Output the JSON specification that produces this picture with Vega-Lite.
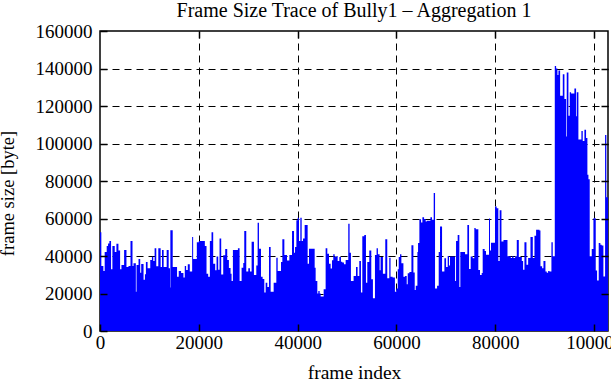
{
  "$schema": "https://vega.github.io/schema/vega-lite/v6.json",
  "width": 508,
  "height": 300,
  "autosize": {"type": "none"},
  "padding": {"left": 100, "top": 31, "right": 3, "bottom": 49},
  "background": "white",
  "title": {"text": "Frame Size Trace of Bully1 – Aggregation 1", "font": "Liberation Serif", "fontSize": 20, "fontWeight": "normal", "color": "black", "offset": 1, "anchor": "middle"},
  "config": {"view": {"stroke": "black", "strokeWidth": 1.5}},
  "data": {"values": [
    {"frame": 0, "size": 52700}, {"frame": 271, "size": 34700}, {"frame": 678, "size": 32000}, {"frame": 949, "size": 42100},
    {"frame": 1356, "size": 45300}, {"frame": 1627, "size": 46700}, {"frame": 1898, "size": 48000}, {"frame": 2237, "size": 33000},
    {"frame": 2509, "size": 45300}, {"frame": 2983, "size": 42100}, {"frame": 3322, "size": 46500}, {"frame": 3729, "size": 43000},
    {"frame": 4068, "size": 33000}, {"frame": 4339, "size": 35200}, {"frame": 4882, "size": 43200}, {"frame": 5356, "size": 34200},
    {"frame": 5763, "size": 34700}, {"frame": 6170, "size": 48000}, {"frame": 6577, "size": 34700}, {"frame": 6780, "size": 36100},
    {"frame": 7255, "size": 21000}, {"frame": 7390, "size": 35200}, {"frame": 7797, "size": 38400}, {"frame": 8136, "size": 31100},
    {"frame": 8339, "size": 35700}, {"frame": 8814, "size": 27400}, {"frame": 9085, "size": 30300}, {"frame": 9289, "size": 36800},
    {"frame": 9628, "size": 33500}, {"frame": 10170, "size": 37900}, {"frame": 10509, "size": 39600}, {"frame": 10780, "size": 37300},
    {"frame": 11051, "size": 44200}, {"frame": 11390, "size": 34500}, {"frame": 11797, "size": 44200}, {"frame": 12272, "size": 34200},
    {"frame": 12543, "size": 43200}, {"frame": 12882, "size": 34200}, {"frame": 13492, "size": 43200}, {"frame": 13899, "size": 33500},
    {"frame": 14170, "size": 23200}, {"frame": 14238, "size": 53800}, {"frame": 14713, "size": 34200}, {"frame": 15594, "size": 29000},
    {"frame": 15933, "size": 32000}, {"frame": 16408, "size": 31000}, {"frame": 16882, "size": 28500}, {"frame": 17153, "size": 34700},
    {"frame": 17424, "size": 32600}, {"frame": 17764, "size": 35600}, {"frame": 18170, "size": 31700}, {"frame": 18645, "size": 50100},
    {"frame": 18848, "size": 38400}, {"frame": 19594, "size": 47400}, {"frame": 20000, "size": 48000}, {"frame": 21217, "size": 45300},
    {"frame": 21555, "size": 30600}, {"frame": 21893, "size": 29000}, {"frame": 22231, "size": 48000}, {"frame": 22569, "size": 52700},
    {"frame": 22907, "size": 35900}, {"frame": 23312, "size": 32400}, {"frame": 23583, "size": 39800}, {"frame": 23921, "size": 32700},
    {"frame": 24191, "size": 49400}, {"frame": 24529, "size": 30100}, {"frame": 24935, "size": 40400}, {"frame": 25340, "size": 43700},
    {"frame": 25746, "size": 37900}, {"frame": 26084, "size": 33600}, {"frame": 26422, "size": 30600}, {"frame": 26625, "size": 26700},
    {"frame": 26895, "size": 43200}, {"frame": 27909, "size": 44200}, {"frame": 28247, "size": 26700}, {"frame": 28653, "size": 33800},
    {"frame": 28991, "size": 36300}, {"frame": 29194, "size": 53300}, {"frame": 29599, "size": 31700}, {"frame": 30005, "size": 33500},
    {"frame": 30343, "size": 31700}, {"frame": 30681, "size": 47600}, {"frame": 31154, "size": 29900}, {"frame": 31627, "size": 34900},
    {"frame": 31898, "size": 57700}, {"frame": 32168, "size": 43900}, {"frame": 32574, "size": 29000}, {"frame": 32912, "size": 27800},
    {"frame": 33250, "size": 20500}, {"frame": 33520, "size": 25800}, {"frame": 33858, "size": 23500}, {"frame": 34196, "size": 44800},
    {"frame": 34534, "size": 21000}, {"frame": 35142, "size": 25800}, {"frame": 35683, "size": 39100}, {"frame": 35954, "size": 32000},
    {"frame": 36630, "size": 36800}, {"frame": 36900, "size": 49000}, {"frame": 37306, "size": 40600}, {"frame": 37846, "size": 37600},
    {"frame": 38320, "size": 40600}, {"frame": 38860, "size": 53300}, {"frame": 39266, "size": 41800}, {"frame": 39469, "size": 44800},
    {"frame": 39739, "size": 59100}, {"frame": 40000, "size": 60400}, {"frame": 40270, "size": 48000}, {"frame": 40540, "size": 60400},
    {"frame": 40810, "size": 48000}, {"frame": 41080, "size": 49400}, {"frame": 41415, "size": 56500}, {"frame": 42020, "size": 35900},
    {"frame": 42290, "size": 43900}, {"frame": 43440, "size": 33800}, {"frame": 43640, "size": 26700}, {"frame": 43980, "size": 20000},
    {"frame": 44180, "size": 21400}, {"frame": 44450, "size": 20000}, {"frame": 44650, "size": 18400}, {"frame": 45260, "size": 22300},
    {"frame": 45660, "size": 44200}, {"frame": 46000, "size": 41200}, {"frame": 46340, "size": 35900}, {"frame": 46670, "size": 33300},
    {"frame": 46940, "size": 37700}, {"frame": 47210, "size": 40900}, {"frame": 47480, "size": 39500}, {"frame": 47820, "size": 40000},
    {"frame": 48090, "size": 37300}, {"frame": 48430, "size": 39500}, {"frame": 48760, "size": 37000}, {"frame": 49030, "size": 36600},
    {"frame": 49370, "size": 35600}, {"frame": 49710, "size": 37900}, {"frame": 50240, "size": 57200}, {"frame": 50510, "size": 41800},
    {"frame": 50780, "size": 26700}, {"frame": 51320, "size": 29400}, {"frame": 51800, "size": 34200}, {"frame": 52130, "size": 29400},
    {"frame": 52470, "size": 37300}, {"frame": 52810, "size": 20500}, {"frame": 53080, "size": 50600}, {"frame": 53480, "size": 51200},
    {"frame": 53820, "size": 25800}, {"frame": 54090, "size": 36800}, {"frame": 54490, "size": 43000}, {"frame": 54900, "size": 27600},
    {"frame": 55230, "size": 17500}, {"frame": 55640, "size": 40500}, {"frame": 55970, "size": 44200}, {"frame": 56240, "size": 40900},
    {"frame": 56580, "size": 32400}, {"frame": 56780, "size": 39500}, {"frame": 57250, "size": 30600}, {"frame": 57730, "size": 49000},
    {"frame": 58130, "size": 28100}, {"frame": 58540, "size": 39100}, {"frame": 58800, "size": 28900}, {"frame": 59210, "size": 28500},
    {"frame": 59680, "size": 21000}, {"frame": 59950, "size": 22700}, {"frame": 60250, "size": 32900}, {"frame": 60450, "size": 39500},
    {"frame": 60720, "size": 40900}, {"frame": 60990, "size": 36100}, {"frame": 61400, "size": 28900}, {"frame": 61730, "size": 29400},
    {"frame": 62070, "size": 25000}, {"frame": 62270, "size": 30800}, {"frame": 62610, "size": 31500}, {"frame": 63020, "size": 45800},
    {"frame": 63420, "size": 31200}, {"frame": 63690, "size": 21900}, {"frame": 63890, "size": 24100}, {"frame": 64230, "size": 42100},
    {"frame": 64360, "size": 46900}, {"frame": 64630, "size": 59600}, {"frame": 64970, "size": 57900}, {"frame": 65240, "size": 60700},
    {"frame": 65580, "size": 59800}, {"frame": 65910, "size": 58400}, {"frame": 66120, "size": 58800}, {"frame": 66860, "size": 60700},
    {"frame": 67190, "size": 59300}, {"frame": 67530, "size": 73600}, {"frame": 67800, "size": 22700}, {"frame": 68210, "size": 24100},
    {"frame": 68540, "size": 42100}, {"frame": 68810, "size": 55800}, {"frame": 69220, "size": 31700}, {"frame": 69690, "size": 38800},
    {"frame": 70030, "size": 34200}, {"frame": 70360, "size": 40000}, {"frame": 70630, "size": 35000}, {"frame": 70830, "size": 39800},
    {"frame": 71850, "size": 26700}, {"frame": 72050, "size": 48000}, {"frame": 72380, "size": 51200}, {"frame": 72720, "size": 23500},
    {"frame": 72920, "size": 42100}, {"frame": 73870, "size": 40900}, {"frame": 74340, "size": 56500}, {"frame": 74680, "size": 33100},
    {"frame": 75010, "size": 39800}, {"frame": 75420, "size": 38800}, {"frame": 75750, "size": 54900}, {"frame": 76020, "size": 54300},
    {"frame": 76560, "size": 32600}, {"frame": 76900, "size": 29900}, {"frame": 77240, "size": 31000}, {"frame": 77440, "size": 43700},
    {"frame": 77840, "size": 42700}, {"frame": 78110, "size": 40700}, {"frame": 78720, "size": 60000}, {"frame": 78920, "size": 43000},
    {"frame": 79120, "size": 47100}, {"frame": 79930, "size": 66400}, {"frame": 80270, "size": 65500}, {"frame": 80610, "size": 37300},
    {"frame": 80880, "size": 64400}, {"frame": 81240, "size": 47700}, {"frame": 81650, "size": 48600}, {"frame": 82460, "size": 39900},
    {"frame": 83130, "size": 38900}, {"frame": 83400, "size": 39900}, {"frame": 83670, "size": 38900}, {"frame": 84010, "size": 39900},
    {"frame": 84340, "size": 48600}, {"frame": 84750, "size": 39500}, {"frame": 85360, "size": 37300}, {"frame": 85620, "size": 32700},
    {"frame": 85890, "size": 47400}, {"frame": 86300, "size": 35300}, {"frame": 86640, "size": 38900}, {"frame": 87110, "size": 50100},
    {"frame": 87580, "size": 38900}, {"frame": 87920, "size": 50800}, {"frame": 88250, "size": 54000}, {"frame": 88930, "size": 53600},
    {"frame": 89130, "size": 34600}, {"frame": 89470, "size": 33500}, {"frame": 89740, "size": 37300}, {"frame": 90140, "size": 31800},
    {"frame": 90410, "size": 31100}, {"frame": 90680, "size": 32000}, {"frame": 90950, "size": 31800}, {"frame": 91350, "size": 47400},
    {"frame": 91620, "size": 39900}, {"frame": 92030, "size": 141300}, {"frame": 92300, "size": 140000}, {"frame": 92570, "size": 136500},
    {"frame": 92770, "size": 139000}, {"frame": 93110, "size": 125500}, {"frame": 93650, "size": 137000}, {"frame": 93980, "size": 123700},
    {"frame": 94320, "size": 103700}, {"frame": 94450, "size": 137900}, {"frame": 94790, "size": 114800}, {"frame": 95060, "size": 127300},
    {"frame": 95330, "size": 126700}, {"frame": 96000, "size": 129400}, {"frame": 96340, "size": 114500}, {"frame": 96480, "size": 127300},
    {"frame": 96810, "size": 102100}, {"frame": 97420, "size": 106700}, {"frame": 97690, "size": 101400}, {"frame": 98030, "size": 107400},
    {"frame": 98360, "size": 102900}, {"frame": 98630, "size": 83400}, {"frame": 98840, "size": 80900}, {"frame": 99100, "size": 39900},
    {"frame": 99510, "size": 43800}, {"frame": 99850, "size": 60200}, {"frame": 100320, "size": 32300}, {"frame": 100590, "size": 27000},
    {"frame": 100920, "size": 47000}, {"frame": 101260, "size": 46000}, {"frame": 101530, "size": 45600}, {"frame": 101870, "size": 29100},
    {"frame": 102210, "size": 104500}, {"frame": 102470, "size": 71400}, {"frame": 102800, "size": 71400}
  ]},
  "layer": [
    {
      "mark": {"type": "area", "interpolate": "step-after", "color": "#0000ff"},
      "encoding": {
        "x": {"field": "frame", "type": "quantitative", "scale": {"domain": [0, 102800], "nice": false},
          "axis": {"orient": "bottom", "grid": true, "gridColor": "black", "gridDash": [7, 5], "gridWidth": 1, "gridOpacity": 1, "domain": false, "ticks": false, "labels": false, "title": null, "values": [20000, 40000, 60000, 80000, 100000], "minExtent": 0, "maxExtent": 0, "zindex": 0}},
        "y": {"field": "size", "type": "quantitative", "scale": {"domain": [0, 160000], "nice": false},
          "axis": {"orient": "left", "grid": true, "gridColor": "black", "gridDash": [7, 5], "gridWidth": 1, "gridOpacity": 1, "domain": false, "ticks": false, "labels": false, "title": null, "values": [20000, 40000, 60000, 80000, 100000, 120000, 140000], "minExtent": 0, "maxExtent": 0, "zindex": 0}}
      }
    },
    {
      "mark": {"type": "area", "interpolate": "step-after", "opacity": 0},
      "encoding": {
        "x": {"field": "frame", "type": "quantitative",
          "axis": {"orient": "bottom", "grid": false, "domain": false, "ticks": true, "tickSize": -7, "tickColor": "black", "tickWidth": 1.5, "labels": true, "labelFont": "Liberation Serif", "labelFontSize": 19, "labelColor": "black", "labelPadding": 9, "labelOverlap": false, "labelFlush": false, "values": [0, 20000, 40000, 60000, 80000, 100000], "format": "d", "title": "frame index", "titleFont": "Liberation Serif", "titleFontSize": 19.5, "titleFontWeight": "normal", "titleColor": "black", "titleY": 47, "titleBaseline": "alphabetic", "zindex": 1}},
        "y": {"field": "size", "type": "quantitative",
          "axis": {"orient": "left", "grid": false, "domain": false, "ticks": true, "tickSize": -7, "tickColor": "black", "tickWidth": 1.5, "labels": true, "labelFont": "Liberation Serif", "labelFontSize": 19, "labelColor": "black", "labelPadding": 15, "labelOverlap": false, "labelFlush": false, "values": [0, 20000, 40000, 60000, 80000, 100000, 120000, 140000, 160000], "format": "d", "title": "frame size [byte]", "titleFont": "Liberation Serif", "titleFontSize": 18.5, "titleFontWeight": "normal", "titleColor": "black", "titleX": -87, "titleY": 162, "titleAngle": 270, "titleAlign": "center", "titleBaseline": "alphabetic", "zindex": 1}}
      }
    },
    {
      "mark": {"type": "area", "interpolate": "step-after", "opacity": 0},
      "encoding": {
        "x": {"field": "frame", "type": "quantitative",
          "axis": {"orient": "top", "grid": false, "domain": false, "ticks": true, "tickSize": -7, "tickColor": "black", "tickWidth": 1.5, "labels": false, "title": null, "values": [20000, 40000, 60000, 80000, 100000], "minExtent": 0, "maxExtent": 0, "zindex": 1}},
        "y": {"field": "size", "type": "quantitative",
          "axis": {"orient": "right", "grid": false, "domain": false, "ticks": true, "tickSize": -7, "tickColor": "black", "tickWidth": 1.5, "labels": false, "title": null, "values": [20000, 40000, 60000, 80000, 100000, 120000, 140000], "minExtent": 0, "maxExtent": 0, "zindex": 1}}
      }
    }
  ],
  "resolve": {"axis": {"x": "independent", "y": "independent"}}
}
